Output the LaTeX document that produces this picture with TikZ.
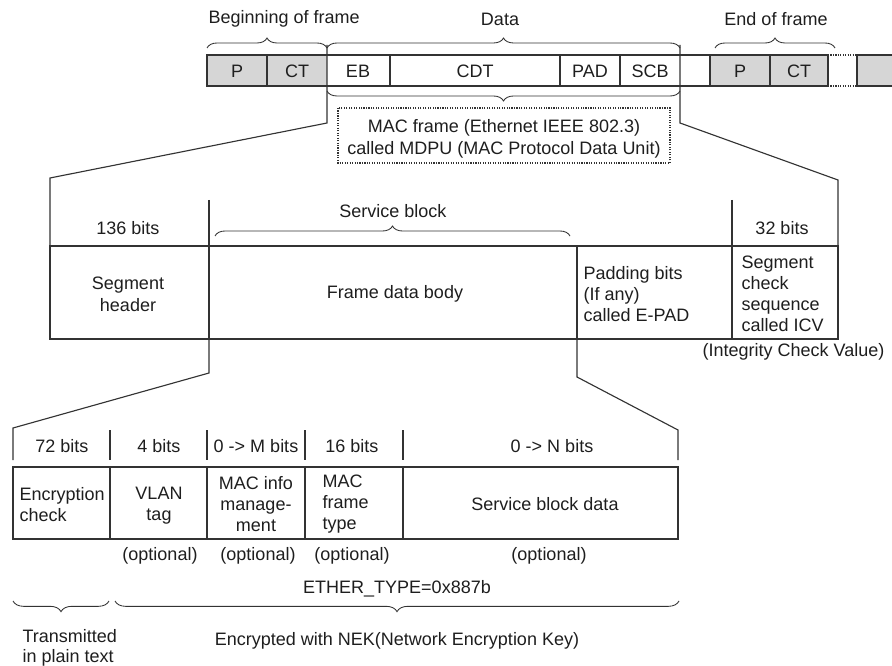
\documentclass[tikz,border=0pt]{standalone}
\usepackage{fontspec}
\setmainfont{Liberation Sans}
\usetikzlibrary{decorations.pathreplacing}
\definecolor{ln}{HTML}{333333}
\definecolor{gf}{HTML}{D6D6D6}
\definecolor{tx}{HTML}{1E1E1E}
\begin{document}
\begin{tikzpicture}[x=0.75pt,y=-0.75pt, line width=0.85pt, ln,
  lbl/.style={font=\fontsize{13.5}{15.75}\selectfont, text=tx, inner sep=0pt, align=center},
  lbll/.style={lbl, align=left, anchor=west},
  brc/.style={decorate, decoration={brace, amplitude=#1}},
  brc/.default=7.5pt,
  thin/.style={line width=0.65pt}]
\useasboundingbox (0,0) rectangle (892,666);

% ---------- top strip ----------
\fill[gf] (207,55) rectangle (327,86);
\fill[gf] (710,55) rectangle (828,86);
\fill[gf] (857,55) rectangle (896,86);
\draw (207,55) rectangle (828,86);
\foreach \x in {267,390,560,620,710,770} \draw (\x,55) -- (\x,86);
\draw[densely dotted] (828,55) -- (857,55) (828,86) -- (857,86);
\draw (896,55) -- (857,55) -- (857,86) -- (896,86);

\node[lbl] (p1)  at (237,71) {P};
\node[lbl] (ct1) at (297,71) {CT};
\node[lbl] (eb)  at (358,71) {EB};
\node[lbl] (cdt) at (475,71) {CDT};
\node[lbl] (pad) at (590,71) {PAD};
\node[lbl] (scb) at (650,71) {SCB};
\node[lbl] (p2)  at (740,71) {P};
\node[lbl] (ct2) at (799,71) {CT};

% top braces and labels
\draw[thin,brc] (207,48) -- (327,48);
\draw[thin,brc] (327,48) -- (680,48);
\draw[thin,brc] (715,48) -- (835,48);
\node[lbl,anchor=west] (bof) at (208,19) {Beginning of frame};
\node[lbl] (data) at (500,19) {Data};
\node[lbl] (eof) at (776,19) {End of frame};

% brace under data
\draw[thin,brc] (680,91) -- (327,91);
\draw[densely dotted] (338,108) rectangle (670,163);
\node[lbl,font=\fontsize{13.5}{16.5}\selectfont] (mac) at (504,139) {MAC frame (Ethernet IEEE 802.3)\\called MDPU (MAC Protocol Data Unit)};

% connectors to middle box
\coordinate (aL) at (327,45);
\coordinate (bL) at (327,123);
\coordinate (cL) at (50,178);
\coordinate (dL) at (50,246);
\coordinate (aR) at (680,45);
\coordinate (bR) at (680,123);
\coordinate (cR) at (838,180);
\coordinate (dR) at (838,246);
\draw (aL) -- (bL) -- (cL) -- (dL);
\draw (aR) -- (bR) -- (cR) -- (dR);

% ---------- middle box ----------
\draw (50,246) rectangle (838,339);
\draw (209,200) -- (209,339);
\draw (577,246) -- (577,339);
\draw (732,200) -- (732,339);
\node[lbl] (b136) at (128,228) {136 bits};
\node[lbl] (svc) at (393,211) {Service block};
\draw[thin,brc] (215,236) -- (570,236);
\node[lbl] (b32) at (782,228) {32 bits};

\node[lbl,font=\fontsize{13.5}{16.5}\selectfont] (seghd) at (128,294) {Segment\\header};
\node[lbl] (fdb) at (395,294) {Frame data body};
\node[lbll] (epad) at (583,294) {Padding bits\\(If any)\\called E-PAD};
\node[lbll] (icv) at (741,294) {Segment\\check\\sequence\\called ICV};
\node[lbl,anchor=west] (icvx) at (702,352) {(Integrity Check Value)};

% connectors to lower box
\coordinate (eL) at (209,339);
\coordinate (fL) at (209,373);
\coordinate (gL) at (13,428);
\coordinate (hL) at (13,460);
\coordinate (eR) at (577,339);
\coordinate (fR) at (577,377);
\coordinate (gR) at (678,430);
\coordinate (hR) at (678,460);
\draw (eL) -- (fL) -- (gL) -- (hL);
\draw (eR) -- (fR) -- (gR) -- (hR);
\foreach \x in {110,207,305,403} \draw (\x,430) -- (\x,460);

% ---------- lower box ----------
\draw (13,467) rectangle (678,539);
\foreach \x in {110,207,305,403} \draw (\x,467) -- (\x,539);

\node[lbl] (h72) at (62,446) {72 bits};
\node[lbl] (h4)  at (159,446) {4 bits};
\node[lbl] (hM)  at (256,446) {0 -> M bits};
\node[lbl] (h16) at (352,446) {16 bits};
\node[lbl] (hN)  at (552,446) {0 -> N bits};

\node[lbll] (enc) at (19,505) {Encryption\\check};
\node[lbl] (vlan) at (159,506) {VLAN\\tag};
\node[lbl] (minfo) at (256,504) {MAC info\\manage-\\ment};
\node[lbll] (mft) at (322,504) {MAC\\frame\\type};
\node[lbl] (sbd) at (545,504) {Service block data};

\node[lbl] (o1) at (160,556) {(optional)};
\node[lbl] (o2) at (258,556) {(optional)};
\node[lbl] (o3) at (352,556) {(optional)};
\node[lbl] (o4) at (549,556) {(optional)};

\node[lbl] (eth) at (397,589) {ETHER\_TYPE=0x887b};
\draw[thin,brc=8pt] (109,601) -- (13,601);
\draw[thin,brc=8pt] (679,601) -- (115,601);
\node[lbll,font=\fontsize{13.5}{15}\selectfont] (plain) at (22,648) {Transmitted\\in plain text};
\node[lbl] (nek) at (397,641) {Encrypted with NEK(Network Encryption Key)};
\end{tikzpicture}
\end{document}
